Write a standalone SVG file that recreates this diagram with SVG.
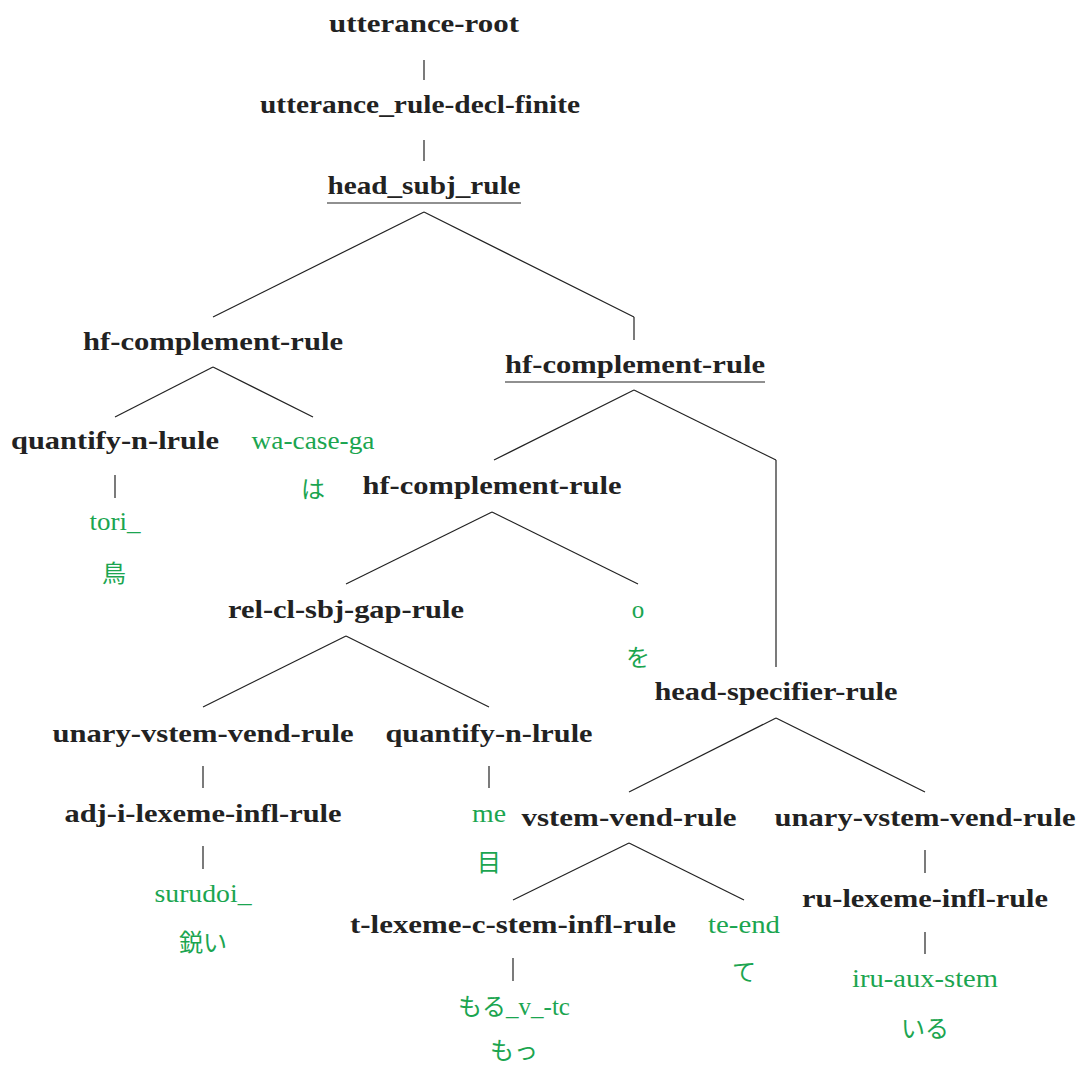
<svg xmlns="http://www.w3.org/2000/svg" width="1078" height="1066" viewBox="0 0 1078 1066">
<style>
.r{font-family:"Liberation Serif","DejaVu Serif",serif;font-weight:bold;font-size:25px;fill:#222;text-anchor:middle}
.g{font-family:"Liberation Serif","DejaVu Serif",serif;font-size:25px;fill:#1ba550;text-anchor:middle}
.j{font-family:"Noto Sans CJK JP",sans-serif;font-size:24px;fill:#1ba550;text-anchor:middle}
.e line{stroke:#222;stroke-width:1.2}
.u{stroke:#222;stroke-width:1.2}
</style>
<rect width="1078" height="1066" fill="#fff"/>
<g id="edges" class="e">
<line x1="424" y1="60" x2="424" y2="80"/>
<line x1="424" y1="140" x2="424" y2="161"/>
<line x1="424" y1="212" x2="213" y2="317"/>
<line x1="424" y1="212" x2="634" y2="317"/>
<line x1="634" y1="317" x2="634" y2="340"/>
<line x1="213" y1="367" x2="115" y2="417"/>
<line x1="213" y1="367" x2="313" y2="417"/>
<line x1="115" y1="475" x2="115" y2="498"/>
<line x1="634" y1="390" x2="494" y2="460"/>
<line x1="634" y1="390" x2="776" y2="460"/>
<line x1="776" y1="460" x2="776" y2="667"/>
<line x1="492" y1="512" x2="346" y2="584"/>
<line x1="492" y1="512" x2="638" y2="584"/>
<line x1="346" y1="636" x2="203" y2="707"/>
<line x1="346" y1="636" x2="489" y2="707"/>
<line x1="776" y1="718" x2="629" y2="792"/>
<line x1="776" y1="718" x2="925" y2="792"/>
<line x1="203" y1="766" x2="203" y2="788"/>
<line x1="489" y1="766" x2="489" y2="788"/>
<line x1="203" y1="846" x2="203" y2="869"/>
<line x1="629" y1="843" x2="513" y2="900"/>
<line x1="629" y1="843" x2="744" y2="900"/>
<line x1="925" y1="850" x2="925" y2="873"/>
<line x1="513" y1="958" x2="513" y2="981"/>
<line x1="925" y1="932" x2="925" y2="954"/>
</g>
<g id="n-utterance-root"><text class="r" x="424" y="32" textLength="190" lengthAdjust="spacingAndGlyphs">utterance-root</text></g>
<g id="n-utterance-rule"><text class="r" x="420" y="113" textLength="320" lengthAdjust="spacingAndGlyphs">utterance_rule-decl-finite</text></g>
<g id="n-head-subj"><text class="r" x="424" y="194" textLength="193" lengthAdjust="spacingAndGlyphs">head_subj_rule</text><line class="u" x1="327" y1="203" x2="521" y2="203"/></g>
<g id="n-hf-left"><text class="r" x="213" y="350" textLength="260" lengthAdjust="spacingAndGlyphs">hf-complement-rule</text></g>
<g id="n-quantify-1"><text class="r" x="115" y="449" textLength="208" lengthAdjust="spacingAndGlyphs">quantify-n-lrule</text></g>
<g id="n-wa-case-ga"><text class="g" x="313" y="449" textLength="123" lengthAdjust="spacingAndGlyphs">wa-case-ga</text><text class="j" x="313" y="498">は</text></g>
<g id="n-tori"><text class="g" x="115" y="530" textLength="51" lengthAdjust="spacingAndGlyphs">tori_</text><text class="j" x="114" y="582">鳥</text></g>
<g id="n-hf-right"><text class="r" x="635" y="373" textLength="260" lengthAdjust="spacingAndGlyphs">hf-complement-rule</text><line class="u" x1="505" y1="382" x2="765" y2="382"/></g>
<g id="n-hf-mid"><text class="r" x="492" y="494" textLength="259" lengthAdjust="spacingAndGlyphs">hf-complement-rule</text></g>
<g id="n-rel-cl"><text class="r" x="346" y="618" textLength="236" lengthAdjust="spacingAndGlyphs">rel-cl-sbj-gap-rule</text></g>
<g id="n-o"><text class="g" x="638" y="618">o</text><text class="j" x="638" y="666">を</text></g>
<g id="n-head-spec"><text class="r" x="776" y="700" textLength="243" lengthAdjust="spacingAndGlyphs">head-specifier-rule</text></g>
<g id="n-unary-1"><text class="r" x="203" y="742" textLength="301" lengthAdjust="spacingAndGlyphs">unary-vstem-vend-rule</text></g>
<g id="n-quantify-2"><text class="r" x="489" y="742" textLength="207" lengthAdjust="spacingAndGlyphs">quantify-n-lrule</text></g>
<g id="n-adj-i"><text class="r" x="203" y="822" textLength="277" lengthAdjust="spacingAndGlyphs">adj-i-lexeme-infl-rule</text></g>
<g id="n-me"><text class="g" x="489" y="822" textLength="34" lengthAdjust="spacingAndGlyphs">me</text><text class="j" x="489" y="871">目</text></g>
<g id="n-vstem"><text class="r" x="629" y="826" textLength="215" lengthAdjust="spacingAndGlyphs">vstem-vend-rule</text></g>
<g id="n-unary-2"><text class="r" x="925" y="826" textLength="301" lengthAdjust="spacingAndGlyphs">unary-vstem-vend-rule</text></g>
<g id="n-surudoi"><text class="g" x="203" y="902" textLength="97" lengthAdjust="spacingAndGlyphs">surudoi_</text><text class="j" x="203" y="951">鋭い</text></g>
<g id="n-t-lexeme"><text class="r" x="513" y="933" textLength="326" lengthAdjust="spacingAndGlyphs">t-lexeme-c-stem-infl-rule</text></g>
<g id="n-te-end"><text class="g" x="744" y="933" textLength="72" lengthAdjust="spacingAndGlyphs">te-end</text><text class="j" x="744" y="981">て</text></g>
<g id="n-ru-lexeme"><text class="r" x="925" y="907" textLength="246" lengthAdjust="spacingAndGlyphs">ru-lexeme-infl-rule</text></g>
<g id="n-iru"><text class="g" x="925" y="987" textLength="146" lengthAdjust="spacingAndGlyphs">iru-aux-stem</text><text class="j" x="925" y="1037">いる</text></g>
<g id="n-moru"><text x="514" y="1015" style="font-family:'Liberation Serif','Noto Sans CJK JP',serif;font-size:25px;fill:#1ba550;text-anchor:middle"><tspan style="font-family:'Noto Sans CJK JP',sans-serif;font-size:24px">もる</tspan>_v_-tc</text><text class="j" x="514" y="1059">もっ</text></g>
</svg>
